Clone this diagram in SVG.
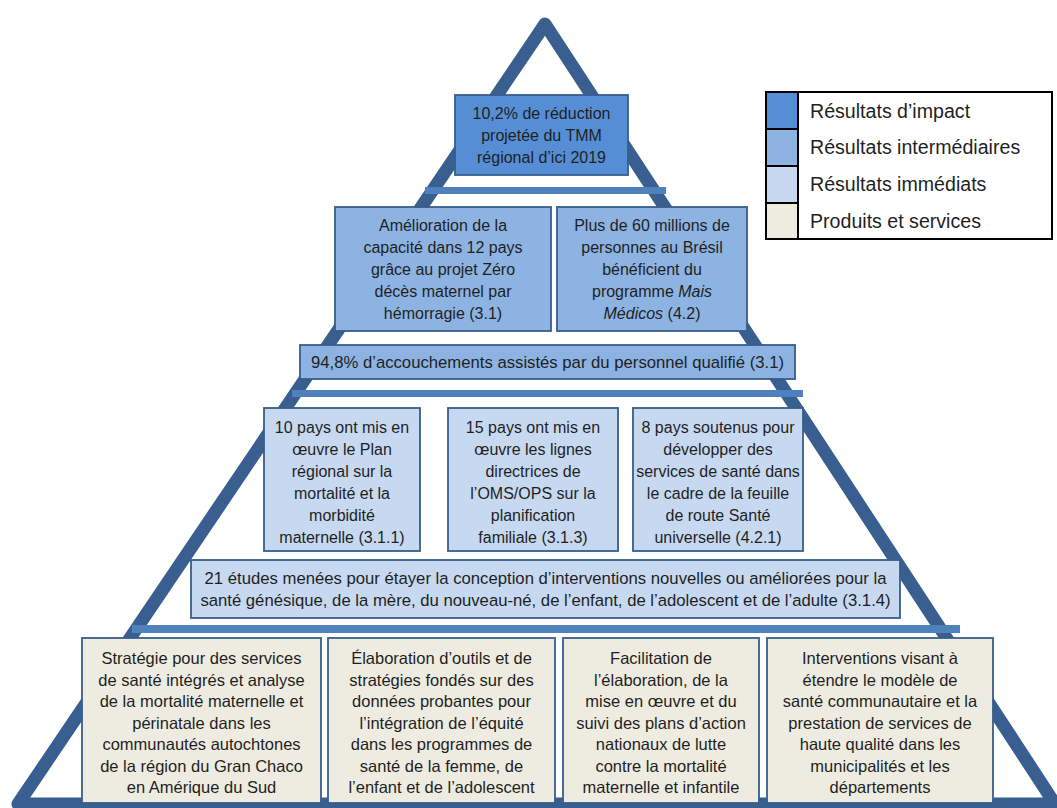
<svg xmlns="http://www.w3.org/2000/svg" width="1057" height="808" viewBox="0 0 1057 808">
<style>
.t{font-family:"Liberation Sans",Arial,sans-serif;font-size:16px;fill:#1f1f1f;text-anchor:middle}
.b{font-size:16.5px}
.w{font-size:16.7px}
.lg{font-family:"Liberation Sans",Arial,sans-serif;font-size:19.6px;fill:#1f1f1f}
.box{stroke:#385D8A;stroke-width:1.8}
.imp{fill:#558ED5}
.int{fill:#8DB3E2}
.imm{fill:#C6D9F1}
.prd{fill:#EEECE1}
.bar{fill:#4F81BD}
.i{font-style:italic}
</style>
<rect width="1057" height="808" fill="#ffffff"/>
<g id="connectors">
<polygon points="545,24 18,804 1055,804" fill="none" stroke="#385F8F" stroke-width="13" stroke-linejoin="round"/>
<rect class="bar" x="425" y="187" width="241" height="7"/>
<rect class="bar" x="292" y="390" width="511" height="7"/>
<rect class="bar" x="132" y="625" width="828" height="8"/>
</g>
<g id="impact">
<rect class="box imp" x="455" y="95" width="173" height="80"/>
<text class="t" x="541.5" y="119">10,2% de réduction</text>
<text class="t" x="541.5" y="141">projetée du TMM</text>
<text class="t" x="541.5" y="163">régional d’ici 2019</text>
</g>
<g id="int1">
<rect class="box int" x="335" y="207" width="216" height="124"/>
<text class="t" x="443" y="231">Amélioration de la</text>
<text class="t" x="443" y="253">capacité dans 12 pays</text>
<text class="t" x="443" y="275">grâce au projet  Zéro</text>
<text class="t" x="443" y="297">décès maternel par</text>
<text class="t" x="443" y="319">hémorragie (3.1)</text>
</g>
<g id="int2">
<rect class="box int" x="557" y="207" width="190" height="124"/>
<text class="t" x="652" y="231">Plus de 60 millions de</text>
<text class="t" x="652" y="253">personnes au Brésil</text>
<text class="t" x="652" y="275">bénéficient  du</text>
<text class="t" x="652" y="297">programme <tspan class="i">Mais</tspan></text>
<text class="t" x="652" y="319"><tspan class="i">Médicos</tspan> (4.2)</text>
</g>
<g id="int3">
<rect class="box int" x="300" y="345" width="495" height="34"/>
<text class="t w" x="547.5" y="368">94,8% d’accouchements assistés par du personnel qualifié (3.1)</text>
</g>
<g id="imm1">
<rect class="box imm" x="264" y="408" width="156" height="143"/>
<text class="t" x="342" y="432.5">10 pays ont mis en</text>
<text class="t" x="342" y="454.5">œuvre le Plan</text>
<text class="t" x="342" y="476.5">régional sur la</text>
<text class="t" x="342" y="498.5">mortalité et la</text>
<text class="t" x="342" y="520.5">morbidité</text>
<text class="t" x="342" y="542.5">maternelle (3.1.1)</text>
</g>
<g id="imm2">
<rect class="box imm" x="448" y="408" width="170" height="143"/>
<text class="t" x="533" y="432.5">15 pays ont mis en</text>
<text class="t" x="533" y="454.5">œuvre les lignes</text>
<text class="t" x="533" y="476.5">directrices de</text>
<text class="t" x="533" y="498.5">l’OMS/OPS sur la</text>
<text class="t" x="533" y="520.5">planification</text>
<text class="t" x="533" y="542.5">familiale (3.1.3)</text>
</g>
<g id="imm3">
<rect class="box imm" x="633" y="408" width="170" height="143"/>
<text class="t" x="718" y="432.5">8 pays soutenus pour</text>
<text class="t" x="718" y="454.5">développer des</text>
<text class="t" x="718" y="476.5">services de santé dans</text>
<text class="t" x="718" y="498.5">le cadre de la feuille</text>
<text class="t" x="718" y="520.5">de route Santé</text>
<text class="t" x="718" y="542.5">universelle (4.2.1)</text>
</g>
<g id="imm4">
<rect class="box imm" x="191" y="560" width="709" height="58"/>
<text class="t w" x="545.5" y="584">21 études menées pour étayer la conception d’interventions nouvelles ou améliorées pour la</text>
<text class="t w" x="545.5" y="606">santé génésique, de la mère, du nouveau-né, de l’enfant, de l’adolescent et de l’adulte (3.1.4)</text>
</g>
<g id="prd1">
<rect class="box prd" x="82" y="638" width="239" height="165"/>
<text class="t b" x="201.5" y="664">Stratégie pour des services</text>
<text class="t b" x="201.5" y="685.5">de santé intégrés et analyse</text>
<text class="t b" x="201.5" y="707">de la mortalité maternelle et</text>
<text class="t b" x="201.5" y="728.5">périnatale dans les</text>
<text class="t b" x="201.5" y="750">communautés autochtones</text>
<text class="t b" x="201.5" y="771.5">de la région du Gran Chaco</text>
<text class="t b" x="201.5" y="793">en Amérique du Sud</text>
</g>
<g id="prd2">
<rect class="box prd" x="328" y="638" width="227" height="165"/>
<text class="t b" x="441.5" y="664">Élaboration d’outils et de</text>
<text class="t b" x="441.5" y="685.5">stratégies fondés sur des</text>
<text class="t b" x="441.5" y="707">données probantes pour</text>
<text class="t b" x="441.5" y="728.5">l’intégration de l’équité</text>
<text class="t b" x="441.5" y="750">dans les programmes de</text>
<text class="t b" x="441.5" y="771.5">santé de la femme, de</text>
<text class="t b" x="441.5" y="793">l’enfant et de l’adolescent</text>
</g>
<g id="prd3">
<rect class="box prd" x="563" y="638" width="196" height="165"/>
<text class="t b" x="661" y="664">Facilitation de</text>
<text class="t b" x="661" y="685.5">l’élaboration, de la</text>
<text class="t b" x="661" y="707">mise en œuvre et du</text>
<text class="t b" x="661" y="728.5">suivi des plans d’action</text>
<text class="t b" x="661" y="750">nationaux de lutte</text>
<text class="t b" x="661" y="771.5">contre la mortalité</text>
<text class="t b" x="661" y="793">maternelle et infantile</text>
</g>
<g id="prd4">
<rect class="box prd" x="767" y="638" width="226" height="165"/>
<text class="t b" x="880" y="664">Interventions visant à</text>
<text class="t b" x="880" y="685.5">étendre le modèle de</text>
<text class="t b" x="880" y="707">santé communautaire et la</text>
<text class="t b" x="880" y="728.5">prestation de services de</text>
<text class="t b" x="880" y="750">haute qualité dans les</text>
<text class="t b" x="880" y="771.5">municipalités et les</text>
<text class="t b" x="880" y="793">départements</text>
</g>
<g id="legend">
<rect x="766" y="92" width="286" height="147" fill="#ffffff" stroke="#000" stroke-width="2"/>
<rect class="imp" x="766" y="92" width="32" height="37" stroke="#000" stroke-width="2"/>
<rect class="int" x="766" y="129" width="32" height="37" stroke="#000" stroke-width="2"/>
<rect class="imm" x="766" y="166" width="32" height="37" stroke="#000" stroke-width="2"/>
<rect class="prd" x="766" y="203" width="32" height="36" stroke="#000" stroke-width="2"/>
<text class="lg" x="810" y="117.5">Résultats d’impact</text>
<text class="lg" x="810" y="154">Résultats intermédiaires</text>
<text class="lg" x="810" y="191">Résultats immédiats</text>
<text class="lg" x="810" y="228">Produits et services</text>
</g>
</svg>
